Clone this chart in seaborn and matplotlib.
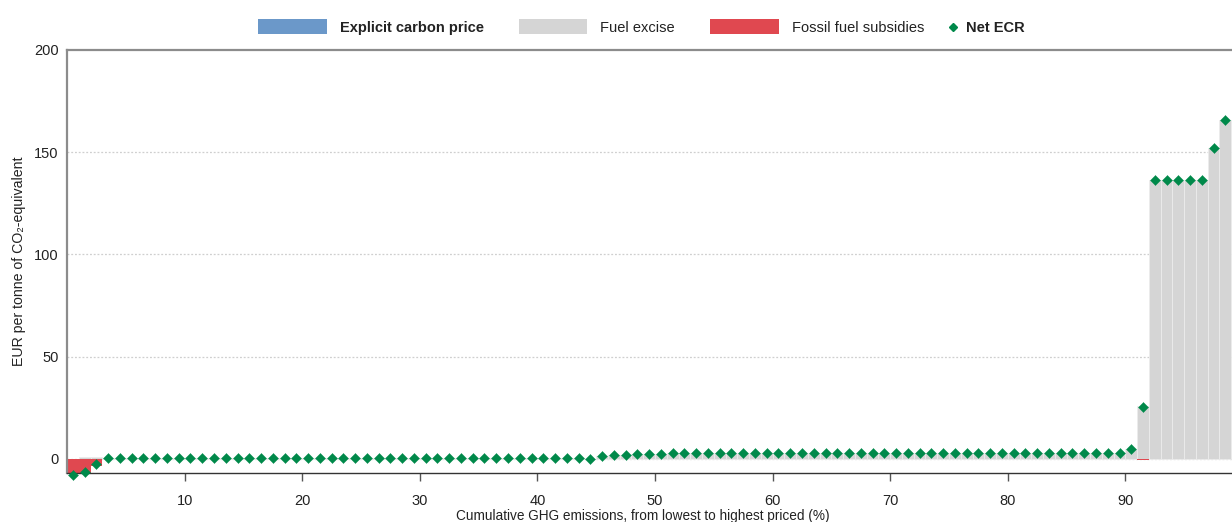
import numpy as np
import pandas as pd
import matplotlib
matplotlib.use("Agg")
import matplotlib.pyplot as plt
from matplotlib.patches import Patch
from matplotlib.lines import Line2D
import seaborn as sns

# ---- data (one value per 1% bin of cumulative emissions) ----
bin_start = [
    0, 1, 2, 3, 4, 5, 6, 7, 8, 9,
    10, 11, 12, 13, 14, 15, 16, 17, 18, 19,
    20, 21, 22, 23, 24, 25, 26, 27, 28, 29,
    30, 31, 32, 33, 34, 35, 36, 37, 38, 39,
    40, 41, 42, 43, 44, 45, 46, 47, 48, 49,
    50, 51, 52, 53, 54, 55, 56, 57, 58, 59,
    60, 61, 62, 63, 64, 65, 66, 67, 68, 69,
    70, 71, 72, 73, 74, 75, 76, 77, 78, 79,
    80, 81, 82, 83, 84, 85, 86, 87, 88, 89,
    90, 91, 92, 93, 94, 95, 96, 97, 98,
]
net_ecr = [
    -7.8, -6.2, -2.4, 0.3, 0.3, 0.3, 0.3, 0.3, 0.3, 0.3,
    0.3, 0.3, 0.3, 0.3, 0.3, 0.3, 0.3, 0.3, 0.3, 0.3,
    0.3, 0.3, 0.3, 0.3, 0.3, 0.3, 0.3, 0.3, 0.3, 0.3,
    0.3, 0.3, 0.3, 0.3, 0.3, 0.3, 0.3, 0.3, 0.3, 0.3,
    0.3, 0.3, 0.3, 0.3, 0.0, 1.5, 2.0, 2.0, 2.4, 2.4,
    2.4, 3.1, 3.1, 3.1, 3.1, 3.1, 3.1, 3.1, 3.1, 3.1,
    3.1, 3.1, 3.1, 3.1, 3.1, 3.1, 3.1, 3.1, 3.1, 3.1,
    3.1, 3.1, 3.1, 3.1, 3.1, 3.1, 3.1, 3.1, 3.1, 3.1,
    3.1, 3.1, 3.1, 3.1, 3.1, 3.1, 3.1, 3.1, 3.1, 3.1,
    4.9, 25.5, 136.5, 136.5, 136.5, 136.5, 136.5, 152.0, 166.0,
]
fuel_excise = [
    0.0, 0.8, 1.2, 0.3, 0.3, 0.3, 0.3, 0.3, 0.3, 0.3,
    0.3, 0.3, 0.3, 0.3, 0.3, 0.3, 0.3, 0.3, 0.3, 0.3,
    0.3, 0.3, 0.3, 0.3, 0.3, 0.3, 0.3, 0.3, 0.3, 0.3,
    0.3, 0.3, 0.3, 0.3, 0.3, 0.3, 0.3, 0.3, 0.3, 0.3,
    0.3, 0.3, 0.3, 0.3, 0.0, 1.5, 2.0, 2.0, 2.4, 2.4,
    2.4, 3.1, 3.1, 3.1, 3.1, 3.1, 3.1, 3.1, 3.1, 3.1,
    3.1, 3.1, 3.1, 3.1, 3.1, 3.1, 3.1, 3.1, 3.1, 3.1,
    3.1, 3.1, 3.1, 3.1, 3.1, 3.1, 3.1, 3.1, 3.1, 3.1,
    3.1, 3.1, 3.1, 3.1, 3.1, 3.1, 3.1, 3.1, 3.1, 3.1,
    4.9, 26.0, 136.5, 136.5, 136.5, 136.5, 136.5, 152.0, 166.0,
]
fossil_subsidies = [
    -7.8, -7.0, -3.6, 0.0, 0.0, 0.0, 0.0, 0.0, 0.0, 0.0,
    0.0, 0.0, 0.0, 0.0, 0.0, 0.0, 0.0, 0.0, 0.0, 0.0,
    0.0, 0.0, 0.0, 0.0, 0.0, 0.0, 0.0, 0.0, 0.0, 0.0,
    0.0, 0.0, 0.0, 0.0, 0.0, 0.0, 0.0, 0.0, 0.0, 0.0,
    0.0, 0.0, 0.0, 0.0, 0.0, 0.0, 0.0, 0.0, 0.0, 0.0,
    0.0, 0.0, 0.0, 0.0, 0.0, 0.0, 0.0, 0.0, 0.0, 0.0,
    0.0, 0.0, 0.0, 0.0, 0.0, 0.0, 0.0, 0.0, 0.0, 0.0,
    0.0, 0.0, 0.0, 0.0, 0.0, 0.0, 0.0, 0.0, 0.0, 0.0,
    0.0, 0.0, 0.0, 0.0, 0.0, 0.0, 0.0, 0.0, 0.0, 0.0,
    0.0, -0.5, 0.0, 0.0, 0.0, 0.0, 0.0, 0.0, 0.0,
]
explicit_price = [0.0] * len(bin_start)

x_ticks = [10, 20, 30, 40, 50, 60, 70, 80, 90]
y_ticks = [0, 50, 100, 150, 200]

legend_labels = ["Explicit carbon price", "Fuel excise", "Fossil fuel subsidies", "Net ECR"]

# ---- style ----
sns.set_theme(style="white")
plt.rcParams["font.family"] = ["Liberation Sans", "DejaVu Sans"]

C_BLUE = "#6b98c9"
C_GREY = "#d5d5d5"
C_RED = "#e04850"
C_GREEN = "#00894a"
TXT = "#222222"

df = pd.DataFrame({
    "start": bin_start,
    "mid": [s + 0.5 for s in bin_start],
    "net": net_ecr,
    "excise": fuel_excise,
    "subsidy": fossil_subsidies,
    "explicit": explicit_price,
})

fig = plt.figure(figsize=(12.32, 5.22), dpi=100)
ax = fig.add_axes([67 / 1232, 1 - 473 / 522, 1 - 67 / 1232, (473 - 50) / 522])

# grid
for yv in [0, 50, 100, 150]:
    ax.axhline(yv, color="#cfcfcf", lw=0.9, ls=(0, (1.5, 1.5)), zorder=0)

# bars (step-like, 1% wide)
ax.bar(df["start"], df["explicit"], width=1.0, align="edge", color=C_BLUE,
       linewidth=0, zorder=1)
ax.bar(df["start"], df["excise"], width=1.0, align="edge", bottom=df["explicit"],
       color=C_GREY, edgecolor="#ececec", linewidth=0.6, zorder=1)
ax.bar(df["start"], df["subsidy"], width=1.0, align="edge", color=C_RED,
       linewidth=0, zorder=2)

# Net ECR points
sns.scatterplot(data=df, x="mid", y="net", ax=ax, marker="D", s=26,
                color=C_GREEN, edgecolor=C_GREEN, linewidth=0.3,
                zorder=3, clip_on=False, legend=False)

ax.set_xlim(0, (1232 - 67) / 11.76)
ax.set_ylim(-(473 - 459) / 2.045, 200)

ax.set_xticks(x_ticks)
ax.set_xticklabels([str(v) for v in x_ticks], fontsize=10.5, color=TXT)
ax.set_yticks(y_ticks)
ax.set_yticklabels([str(v) for v in y_ticks], fontsize=10.5, color=TXT)
ax.tick_params(axis="x", direction="out", length=6, width=1, color="#555555", pad=9, bottom=True)
ax.tick_params(axis="y", length=0, pad=6, left=False)

for side in ["top", "left"]:
    ax.spines[side].set_color("#8c8c8c")
    ax.spines[side].set_linewidth(1.6)
ax.spines["right"].set_visible(False)
ax.spines["bottom"].set_color("#333333")
ax.spines["bottom"].set_linewidth(1.0)

ax.set_xlabel("Cumulative GHG emissions, from lowest to highest priced (%)",
              fontsize=9.8, color=TXT)
ax.set_ylabel("EUR per tonne of CO\u2082-equivalent", fontsize=10.2, color=TXT)
ax.yaxis.set_label_coords(-0.035, 0.5)
ax.xaxis.set_label_coords(0.494, -0.086)

patch_handles = [
    Patch(facecolor=C_BLUE, edgecolor="none"),
    Patch(facecolor=C_GREY, edgecolor="none"),
    Patch(facecolor=C_RED, edgecolor="none"),
]
leg1 = fig.legend(patch_handles, legend_labels[:3], loc="center left",
                  bbox_to_anchor=(258 / 1232, 1 - 27 / 522), ncol=3, frameon=False,
                  fontsize=10.5, handlelength=4.7, handleheight=1.15,
                  handletextpad=0.9, columnspacing=2.4, borderpad=0, borderaxespad=0)
dot_handle = [Line2D([], [], marker="D", color="none", markerfacecolor=C_GREEN,
                     markeredgecolor=C_GREEN, markersize=4.5)]
leg2 = fig.legend(dot_handle, legend_labels[3:], loc="center left",
                  bbox_to_anchor=(946 / 1232, 1 - 28.5 / 522), frameon=False,
                  fontsize=10.5, handlelength=0.9, handletextpad=0.5,
                  borderpad=0, borderaxespad=0)
for leg in (leg1, leg2):
    for t in leg.get_texts():
        t.set_color(TXT)
leg1.get_texts()[0].set_fontweight("bold")
leg2.get_texts()[0].set_fontweight("bold")

fig.savefig("out.png", dpi=100)
